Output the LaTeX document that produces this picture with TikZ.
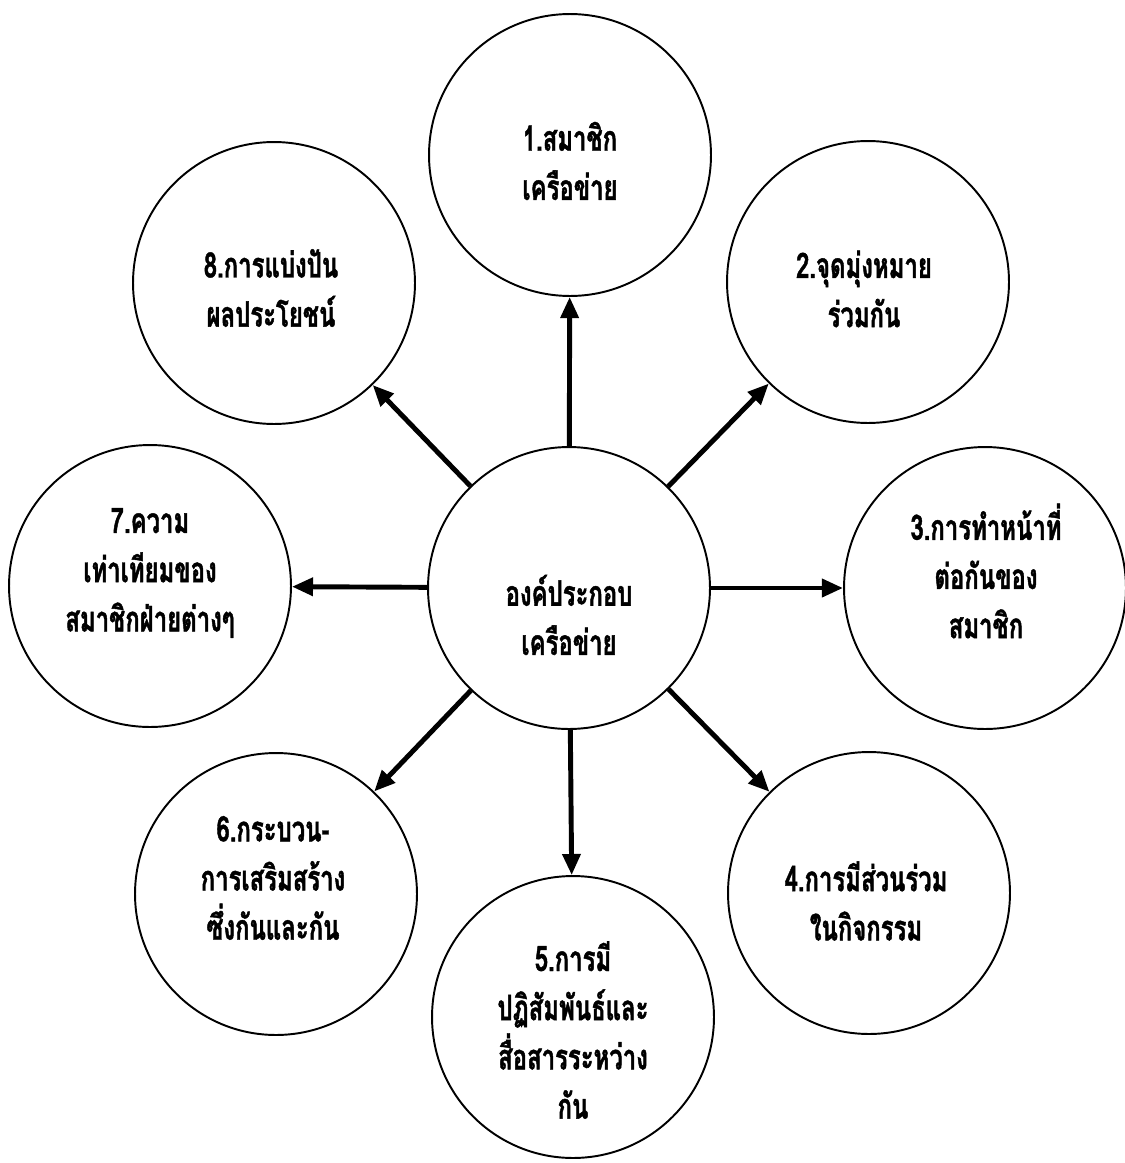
\documentclass[tikz,border=0pt]{standalone}
\usepackage{fontspec}
\newfontfamily\thaifont[Script=Thai,FakeStretch=0.68,FakeBold=1.2]{Loma}
\usetikzlibrary{arrows.meta}
\begin{document}
\begin{tikzpicture}[x=0.02cm,y=-0.02cm,
  bubble/.style={draw,circle,line width=1.1pt,inner sep=0pt,minimum size=5.64cm},
  lbl/.style={font=\thaifont\bfseries\fontsize{20}{28}\selectfont,align=center,inner sep=0pt},
  arr/.style={line width=2.8pt,-{Triangle[length=12pt,width=10pt]}}]
\fill[white] (0,0) rectangle (1125,1163);
\useasboundingbox (0,0) rectangle (1125,1163);
% circles
\node[bubble] (c0) at (569,588) {};
\node[bubble] (c1) at (570,155) {};
\node[bubble] (c2) at (868,282) {};
\node[bubble] (c3) at (985,588) {};
\node[bubble] (c4) at (869,893) {};
\node[bubble] (c5) at (573,1017) {};
\node[bubble] (c6) at (276,894) {};
\node[bubble] (c7) at (150,586) {};
\node[bubble] (c8) at (274,283) {};
% texts
\node[lbl] (t0) at (569,615) {องค์ประกอบ\\เครือข่าย};
\node[lbl] (t1) at (570,161) {1.สมาชิก\\เครือข่าย};
\node[lbl] (t2) at (864,289) {2.จุดมุ่งหมาย\\ร่วมกัน};
\node[lbl] (t3) at (986,571) {3.การทำหน้าที่\\ต่อกันของ\\สมาชิก};
\node[lbl] (t4) at (866,901) {4.การมีส่วนร่วม\\ในกิจกรรม};
\node[lbl] (t5) at (573,1030) {5.การมี\\ปฏิสัมพันธ์และ\\สื่อสารระหว่าง\\กัน};
\node[lbl] (t6) at (273,878) {6.กระบวน-\\การเสริมสร้าง\\ซึ่งกันและกัน};
\node[lbl] (t7) at (150,573) {7.ความ\\เท่าเทียมของ\\สมาชิกฝ่ายต่างๆ};
\node[lbl] (t8) at (271,288) {8.การแบ่งปัน\\ผลประโยชน์};
% arrows
\foreach \k in {1,...,8} \draw[arr] (c0) -- (c\k);
\end{tikzpicture}
\end{document}
